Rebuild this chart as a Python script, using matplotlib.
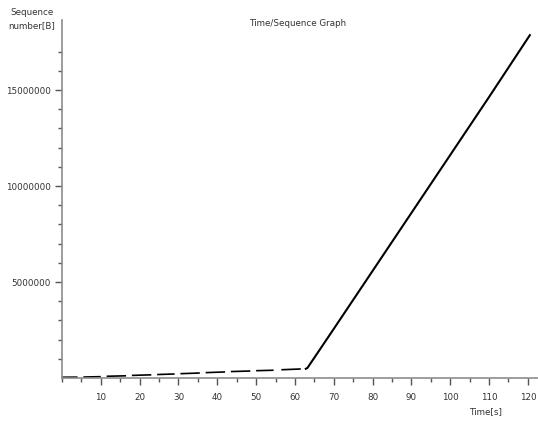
import matplotlib
matplotlib.use('Agg')
import matplotlib.pyplot as plt
from matplotlib.ticker import MultipleLocator, FixedLocator

# slow phase: bursts of segments (start time, end time, seq start, seq end)
burst_t0 = [0.0, 5.5, 11.5, 18.0, 24.5, 30.5, 37.0, 43.5, 50.0, 56.5]
burst_t1 = [4.0, 10.0, 16.5, 23.0, 29.0, 35.5, 42.0, 48.5, 54.5, 61.5]
burst_s0 = [40000, 50000, 90000, 135000, 180000, 225000, 280000, 335000, 380000, 430000]
burst_s1 = [45000, 70000, 115000, 165000, 210000, 260000, 315000, 365000, 405000, 470000]

# fast phase
fast_t = [62.8, 63.2, 70.0, 80.0, 90.0, 100.0, 110.0, 120.5]
fast_s = [480000, 520000, 2560000, 5580000, 8600000, 11620000, 14640000, 17860000]

x_major = [10, 20, 30, 40, 50, 60, 70, 80, 90, 100, 110, 120]
y_major = [5000000, 10000000, 15000000]
y_minor = [1e6, 2e6, 3e6, 4e6, 6e6, 7e6, 8e6, 9e6, 11e6, 12e6, 13e6, 14e6, 16e6, 17e6]

fig = plt.figure(figsize=(5.38, 4.24), dpi=100)
ax = fig.add_axes([62 / 538, 46 / 424, 476 / 538, 358 / 424])

for t0, t1, s0, s1 in zip(burst_t0, burst_t1, burst_s0, burst_s1):
    ax.plot([t0, t1], [s0, s1], color='black', lw=1.2, solid_capstyle='butt')
ax.plot(fast_t, fast_s, color='black', lw=1.5)

ax.set_xlim(0, 122.6)
ax.set_ylim(0, 18650000)

ax.xaxis.set_major_locator(FixedLocator(x_major))
ax.xaxis.set_minor_locator(MultipleLocator(5))
ax.yaxis.set_major_locator(FixedLocator(y_major))
ax.yaxis.set_minor_locator(FixedLocator(y_minor))
ax.set_xticklabels([str(v) for v in x_major])
ax.set_yticklabels([str(v) for v in y_major])

for side in ['top', 'right']:
    ax.spines[side].set_visible(False)
for side in ['left', 'bottom']:
    ax.spines[side].set_color('#8c8c8c')
    ax.spines[side].set_linewidth(1.2)

ax.tick_params(which='major', length=5, width=1, color='#555555',
               labelsize=6.3, labelcolor='#333333', pad=6)
ax.tick_params(which='minor', length=3, width=1, color='#555555')
ax.tick_params(axis='y', which='major', pad=3)

fig.text(298 / 538, 1 - 23 / 424, 'Time/Sequence Graph', ha='center', va='center',
         fontsize=6.3, color='#333333')
fig.text(32 / 538, 1 - 19 / 424, 'Sequence\nnumber[B]', ha='center', va='center',
         fontsize=6.3, color='#333333', linespacing=1.5)
fig.text(486 / 538, 1 - 412 / 424, 'Time[s]', ha='center', va='center',
         fontsize=6.3, color='#333333')

fig.savefig('out.png', dpi=100)
